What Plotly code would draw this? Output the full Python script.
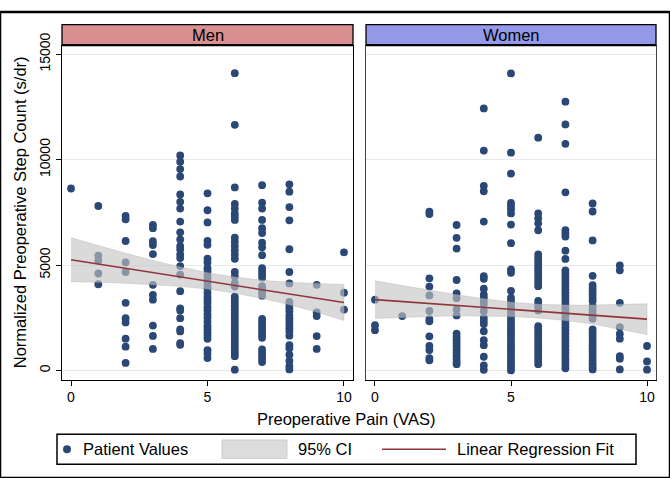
import plotly.graph_objects as go

# ---------------- data ----------------
pain_levels = [0, 1, 2, 3, 4, 5, 6, 7, 8, 9, 10]

men_p0 = [8630]
men_p1 = [7800, 5450, 5220, 4600, 4090]
men_p2 = [7330, 7170, 6140, 5130, 4670, 3210, 2480, 2280, 1510, 1130, 360]
men_p3 = [6900, 6750, 6130, 5950, 5520, 4060, 3590, 3360, 2130, 1640, 1020]
men_p4 = [10200, 9900, 9550, 9200, 8350, 8000, 7680, 7060, 6550, 6215, 5900, 5750,
          5500, 5330, 4950, 4550, 3760, 2950, 2850, 2480, 1950, 1850, 1300, 1220]
men_p5 = [8400, 7600, 7020, 6140, 5960, 5300, 5120, 4850, 4700, 4500, 4350, 4200,
          4050, 3900, 3700, 3500, 3350, 3200, 3000, 2850, 2650, 2500, 2300, 2100,
          1950, 1800, 1650, 1500, 960, 800, 590]
men_p6 = [14100, 11650, 8680, 7900, 7680, 7450, 7300, 7140, 6300, 6100, 5900, 5700,
          5500, 5300, 4670, 4460, 4140, 3980, 3500, 3350, 3200, 3050, 2900, 2750,
          2600, 2450, 2300, 2150, 2000, 1850, 1700, 1550, 1400, 1250, 1100, 950,
          800, 680, 40]
men_p7 = [8790, 7960, 7680, 7140, 6750, 6520, 6060, 5850, 5470, 4850, 4700, 4550,
          4400, 4000, 3850, 3700, 3550, 2450, 2300, 2150, 2000, 1850, 1700, 1550,
          1000, 850, 700, 550, 400]
men_p8 = [8830, 8480, 7750, 7120, 5750, 4670, 4130, 3250, 3100, 2950, 2800, 2600,
          2450, 2300, 2150, 2000, 1850, 1650, 1200, 1050, 750, 450, 200, 50]
men_p9 = [4060, 2750, 2580, 1630, 1020]
men_p10 = [5600, 3690, 2890]

women_p0 = [3360, 2150, 1910]
women_p1 = [2580]
women_p2 = [7530, 7420, 4370, 3980, 3560, 2820, 2440, 2330, 1620, 1160, 970, 590, 480]
women_p3 = [6900, 6290, 5780, 4290, 3660, 3420, 2900, 2610, 1750, 1600, 1450, 1300,
            1150, 1000, 850, 700, 550, 400, 300]
women_p4 = [12430, 10430, 8760, 8500, 7060, 4470, 4350, 3880, 3600, 3450, 3300, 3150,
            2820, 2500, 2350, 2200, 1860, 1434, 1200, 650, 240, 30]
women_p5 = [14090, 10330, 9340, 7950, 7800, 7650, 7450, 6920, 6040, 4790, 4630, 3780,
            3450, 3300, 3150, 3000, 2850, 2700, 2550, 2400, 2250, 2100, 1950, 1800,
            1650, 1500, 1350, 1200, 1050, 900, 750, 600, 450, 300, 150, 0]
women_p6 = [11040, 7450, 7215, 6980, 6650, 5500, 5350, 5200, 5050, 4900, 4750, 4600,
            4450, 4300, 4150, 4000, 3300, 3150, 3000, 2850, 2100, 1950, 1800, 1650,
            1500, 1350, 1200, 1050, 900, 750, 600, 450, 300]
women_p7 = [12750, 11670, 10750, 8450, 6650, 6500, 6350, 5680, 5290, 4750, 4600, 4450,
            4300, 4150, 4000, 3850, 3700, 3550, 3400, 3250, 3100, 2950, 2800, 2650,
            2500, 2350, 2200, 2050, 1900, 1750, 1600, 1450, 1300, 1150, 1000, 850,
            700, 550, 400, 250, 100]
women_p8 = [7920, 7540, 6170, 4490, 4050, 3900, 3750, 3600, 3450, 3300, 3050, 2900,
            2750, 2600, 2450, 1950, 1800, 1650, 1500, 1350, 1200, 1050, 900, 750,
            600, 450, 300, 150, 50]
women_p9 = [4980, 4750, 3210, 2050, 1740, 1510, 680, 560, 50]
women_p10 = [1160, 430, 40]

# fitted lines and 95% CI bounds (read at each pain level)
men_fit_x = [0, 10]
men_fit_y = [5250, 3220]
men_ci_upper = [6290, 5920, 5560, 5220, 4910, 4640, 4430, 4280, 4180, 4120, 4080]
men_ci_lower = [4210, 4180, 4140, 4080, 3990, 3860, 3670, 3420, 3120, 2770, 2370]

women_fit_x = [0, 10]
women_fit_y = [3360, 2435]
women_ci_upper = [4250, 4020, 3800, 3590, 3400, 3240, 3140, 3100, 3100, 3120, 3165]
women_ci_lower = [2470, 2520, 2560, 2590, 2590, 2560, 2490, 2370, 2200, 1970, 1705]

panel_titles = ["Men", "Women"]
y_ticks = [0, 5000, 10000, 15000]
x_ticks = [0, 5, 10]
legend_labels = ["Patient Values", "95% CI", "Linear Regression Fit"]

# ---------------- styling ----------------
W, H = 670, 478
DOT = "#2a4775"
FIT = "#90353b"
BAND = "rgba(196,196,196,0.62)"
FONT = "Liberation Sans, Arial, sans-serif"


def px_x(p):
    return p / W


def px_y(p):
    return 1 - p / H


def flatten(cols):
    xs, ys = [], []
    for lvl, col in zip(pain_levels, cols):
        for v in col:
            xs.append(lvl)
            ys.append(v)
    return xs, ys


men_cols = [men_p0, men_p1, men_p2, men_p3, men_p4, men_p5, men_p6, men_p7, men_p8, men_p9, men_p10]
women_cols = [women_p0, women_p1, women_p2, women_p3, women_p4, women_p5, women_p6,
              women_p7, women_p8, women_p9, women_p10]

fig = go.Figure()

panels = [
    ("x", "y", men_cols, men_fit_x, men_fit_y, men_ci_upper, men_ci_lower),
    ("x2", "y2", women_cols, women_fit_x, women_fit_y, women_ci_upper, women_ci_lower),
]

for xa, ya, cols, fx, fy, up, lo in panels:
    xs, ys = flatten(cols)
    fig.add_trace(go.Scatter(
        x=xs, y=ys, mode="markers", xaxis=xa, yaxis=ya,
        marker=dict(color=DOT, size=7.8, line=dict(width=0)),
        name=legend_labels[0], showlegend=False))
    fig.add_trace(go.Scatter(
        x=pain_levels + pain_levels[::-1], y=up + lo[::-1],
        mode="lines", fill="toself", fillcolor=BAND,
        line=dict(color="rgba(175,175,175,0.6)", width=0.6),
        xaxis=xa, yaxis=ya, name=legend_labels[1], showlegend=False,
        hoverinfo="skip"))
    fig.add_trace(go.Scatter(
        x=fx, y=fy, mode="lines", line=dict(color=FIT, width=1.6),
        xaxis=xa, yaxis=ya, name=legend_labels[2], showlegend=False))

plot_top, plot_bot = 34, 377
men_l, men_r = 62, 353
wom_l, wom_r = 366, 656

common_x = dict(
    range=[-0.33, 10.33], tickvals=x_ticks, ticks="outside", ticklen=5,
    tickcolor="black", showline=True, linecolor="black", linewidth=1.3,
    showgrid=False, zeroline=False, tickfont=dict(size=14, color="black"),
    fixedrange=True)
common_y = dict(
    range=[-430, 15430], tickvals=y_ticks, tickformat="d", showgrid=True,
    gridcolor="#e3ebef", gridwidth=1, zeroline=False, showline=True, mirror=True,
    linewidth=1.3, fixedrange=True)

fig.update_layout(
    width=W, height=H,
    margin=dict(l=0, r=0, t=0, b=0),
    paper_bgcolor="white", plot_bgcolor="white",
    font=dict(family=FONT, color="black"),
    showlegend=False,
    xaxis=dict(domain=[px_x(men_l), px_x(men_r)], anchor="y", **common_x),
    xaxis2=dict(domain=[px_x(wom_l), px_x(wom_r)], anchor="y2", **common_x),
    yaxis=dict(domain=[px_y(plot_bot), px_y(plot_top)], anchor="x",
               ticks="outside", ticklen=5, tickcolor="black",
               tickangle=-90, tickfont=dict(size=14, color="black"),
               linecolor="black",
               title=dict(text="Normalized Preoperative Step Count (s/dr)",
                          font=dict(size=16.5, color="black"), standoff=6),
               **common_y),
    yaxis2=dict(domain=[px_y(plot_bot), px_y(plot_top)], anchor="x2",
                showticklabels=False, ticks="", linecolor="#444", **common_y),
)

# panel strips
strip_fills = ["#d98e90", "#9399e8"]
for (l, r), title, fillc in zip([(men_l, men_r), (wom_l, wom_r)], panel_titles, strip_fills):
    fig.add_shape(type="rect", xref="paper", yref="paper",
                  x0=px_x(l), x1=px_x(r), y0=px_y(plot_top), y1=px_y(13),
                  fillcolor=fillc, line=dict(color="black", width=1.3), layer="above")
    fig.add_shape(type="line", xref="paper", yref="paper",
                  x0=px_x(l), x1=px_x(r), y0=px_y(plot_top), y1=px_y(plot_top),
                  line=dict(color="black", width=2.2), layer="above")
    fig.add_annotation(text=title, xref="paper", yref="paper",
                       x=px_x((l + r) / 2), y=px_y(23.5), showarrow=False,
                       font=dict(size=16.5, color="black"), xanchor="center", yanchor="middle")

# x-axis title
fig.add_annotation(text="Preoperative Pain (VAS)", xref="paper", yref="paper",
                   x=px_x(346), y=px_y(417), showarrow=False,
                   font=dict(size=16.5, color="black"), xanchor="center", yanchor="middle")

# legend (drawn as a key box)
ly = 448.5
fig.add_shape(type="rect", xref="paper", yref="paper",
              x0=px_x(57), x1=px_x(636), y0=px_y(464), y1=px_y(433),
              line=dict(color="black", width=1.5), fillcolor="white")
fig.add_shape(type="circle", xref="paper", yref="paper",
              x0=px_x(63), x1=px_x(71), y0=px_y(ly + 4), y1=px_y(ly - 4),
              line=dict(width=0), fillcolor=DOT)
fig.add_shape(type="rect", xref="paper", yref="paper",
              x0=px_x(222), x1=px_x(287), y0=px_y(ly + 9.5), y1=px_y(ly - 9.5),
              line=dict(color="#cfcfcf", width=1), fillcolor="#dcdcdc")
fig.add_shape(type="line", xref="paper", yref="paper",
              x0=px_x(382), x1=px_x(446), y0=px_y(ly), y1=px_y(ly),
              line=dict(color=FIT, width=1.6))
for txt, x0 in zip(legend_labels, [81, 296, 455]):
    fig.add_annotation(text=txt, xref="paper", yref="paper", x=px_x(x0), y=px_y(ly),
                       showarrow=False, xanchor="left", yanchor="middle",
                       font=dict(size=16.5, color="black"))

# outer frame
fig.add_shape(type="rect", xref="paper", yref="paper", x0=0, x1=1, y0=0, y1=1,
              line=dict(color="black", width=2.5), fillcolor="rgba(0,0,0,0)")

fig.write_html("out.html", config={"displayModeBar": False},
               post_script="document.body.style.margin='0';")
